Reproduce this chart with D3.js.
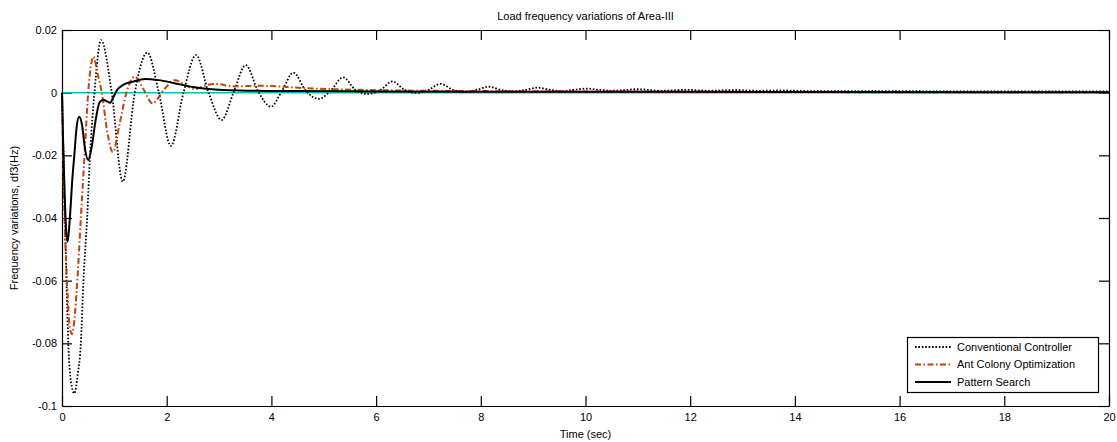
<!DOCTYPE html>
<html>
<head>
<meta charset="utf-8">
<script src="https://cdn.jsdelivr.net/npm/d3@7"></script>
<style>
  html, body { margin: 0; padding: 0; background: #fff; }
  svg { display: block; font-family: Arial, "Liberation Sans", sans-serif; }
  .axis text { font-size: 11px; fill: #000; }
  .axis path, .axis line { stroke: #000; stroke-width: 1.2; }
</style>
</head>
<body>
<div id="chart"></div>
<script>
// time axis and values of each response
const timeConv = [0, 0.03, 0.06, 0.09, 0.12, 0.17, 0.235, 0.3, 0.36, 0.41, 0.48, 0.535, 0.62, 0.745, 0.95, 1.16, 1.39, 1.63, 1.85, 2.08, 2.32, 2.56, 2.8, 3.05, 3.28, 3.51, 3.75, 3.99, 4.2, 4.42, 4.66, 4.91, 5.14, 5.37, 5.61, 5.85, 6.08, 6.31, 6.55, 6.78, 7.0, 7.23, 7.47, 7.7, 7.92, 8.15, 8.38, 8.62, 8.85, 9.09, 9.32, 9.55, 9.78, 10.02, 10.26, 10.5, 10.74, 10.98, 11.45, 11.92, 12.4, 12.85, 13.3, 13.8, 14.3, 20];
const conventional = [0, -0.02, -0.042, -0.063, -0.08, -0.092, -0.096, -0.09, -0.08, -0.06, -0.04, -0.02, 0, 0.0168, 0, -0.0284, 0, 0.0128, 0, -0.017, 0, 0.012, 0, -0.0087, 0.0002, 0.0088, 0.0003, -0.0045, 0.0005, 0.0064, 0.0005, -0.002, 0.0008, 0.0049, 0.0008, -0.0004, 0.0008, 0.0036, 0.0008, -0.0001, 0.0009, 0.0028, 0.0009, 0.0002, 0.0009, 0.0019, 0.0009, 0.0004, 0.0009, 0.0016, 0.0009, 0.0005, 0.0009, 0.0013, 0.0009, 0.0006, 0.0008, 0.0011, 0.0006, 0.0009, 0.0006, 0.0008, 0.0006, 0.0007, 0.0005, 0.0004];

const timeAco = [0, 0.02, 0.05, 0.1, 0.15, 0.19, 0.25, 0.3, 0.36, 0.43, 0.5, 0.6, 0.68, 0.76, 0.87, 0.97, 1.1, 1.23, 1.39, 1.56, 1.73, 1.95, 2.16, 2.35, 2.54, 2.72, 2.92, 3.3, 3.75, 4.7, 5.7, 7, 10, 14, 20];
const aco = [0, -0.02, -0.04, -0.062, -0.075, -0.077, -0.07, -0.058, -0.04, -0.02, 0, 0.0115, 0.006, 0, -0.013, -0.019, -0.01, 0, 0.0051, 0.001, -0.0034, 0.001, 0.004, 0.0025, 0.0011, 0.0022, 0.0028, 0.002, 0.0022, 0.0014, 0.0009, 0.0006, 0.0004, 0.0002, 0.0001];

const timePs = [0, 0.02, 0.05, 0.08, 0.108, 0.15, 0.2, 0.235, 0.28, 0.325, 0.38, 0.44, 0.5, 0.56, 0.65, 0.72, 0.79, 0.86, 0.92, 0.98, 1.05, 1.17, 1.35, 1.59, 1.85, 2.13, 2.5, 2.8, 3.4, 4.5, 6, 10, 14.3, 20];
const patternSearch = [0, -0.015, -0.032, -0.044, -0.0476, -0.04, -0.027, -0.02, -0.011, -0.0077, -0.01, -0.018, -0.0215, -0.018, -0.008, -0.003, -0.0023, -0.0028, -0.0032, -0.0015, 0.0008, 0.0025, 0.0035, 0.0044, 0.004, 0.0031, 0.0018, 0.0012, 0.0007, 0.0005, 0.0004, 0.0003, 0.0002, 0.0001];

const timeRef = [0, 20];
const reference = [0, 0];

const xTicks = [0, 2, 4, 6, 8, 10, 12, 14, 16, 18, 20];
const yTicks = [0.02, 0, -0.02, -0.04, -0.06, -0.08, -0.1];
const legendLabels = ['Conventional Controller', 'Ant Colony Optimization', 'Pattern Search'];

const W = 1117, H = 442;
// plot box in pixels
const box = {left: 62, right: 1109, top: 30, bottom: 406};

const svg = d3.select('#chart').append('svg')
    .attr('width', W)
    .attr('height', H);

const x = d3.scaleLinear().domain([0, 20]).range([box.left, box.right]);
const y = d3.scaleLinear().domain([-0.1, 0.02]).range([box.bottom, box.top]);

const fmt = d => d === 0 ? '0' : String(+d.toFixed(2));

// axes, ticks pointing inwards like matlab
svg.append('g').attr('class', 'axis')
    .attr('transform', `translate(0,${box.bottom})`)
    .call(d3.axisBottom(x).tickValues(xTicks).tickSizeInner(-10).tickSizeOuter(0).tickPadding(7).tickFormat(fmt));
svg.append('g').attr('class', 'axis')
    .attr('transform', `translate(0,${box.top})`)
    .call(d3.axisTop(x).tickValues(xTicks).tickSizeInner(-10).tickSizeOuter(0).tickFormat(''));
svg.append('g').attr('class', 'axis')
    .attr('transform', `translate(${box.left},0)`)
    .call(d3.axisLeft(y).tickValues(yTicks).tickSizeInner(-10).tickSizeOuter(0).tickPadding(5).tickFormat(fmt));
svg.append('g').attr('class', 'axis')
    .attr('transform', `translate(${box.right},0)`)
    .call(d3.axisRight(y).tickValues(yTicks).tickSizeInner(-10).tickSizeOuter(0).tickFormat(''));

const series = [
    {t: timeRef, v: reference, color: '#00bfbf', width: 1.5, dash: null},
    {t: timeConv, v: conventional, color: '#000', width: 1.8, dash: '1.6,1.8'},
    {t: timeAco, v: aco, color: '#c0440c', width: 2, dash: '6,2.5,1.5,2.5'},
    {t: timePs, v: patternSearch, color: '#000', width: 2, dash: null}
];

const line = d3.line()
    .x(d => x(d[0]))
    .y(d => y(d[1]))
    .curve(d3.curveMonotoneX);

svg.append('g')
    .selectAll('path')
    .data(series)
    .join('path')
    .attr('d', s => line(s.t.map((t, i) => [t, s.v[i]])))
    .attr('fill', 'none')
    .attr('stroke', s => s.color)
    .attr('stroke-width', s => s.width)
    .attr('stroke-dasharray', s => s.dash);

// title and axis labels
svg.append('text')
    .attr('x', (box.left + box.right) / 2).attr('y', 20)
    .attr('text-anchor', 'middle')
    .style('font-size', '11px')
    .text('Load frequency variations of Area-III');
svg.append('text')
    .attr('x', (box.left + box.right) / 2).attr('y', 438)
    .attr('text-anchor', 'middle')
    .style('font-size', '11px')
    .text('Time (sec)');
svg.append('text')
    .attr('transform', `translate(18,${(box.top + box.bottom) / 2}) rotate(-90)`)
    .attr('text-anchor', 'middle')
    .style('font-size', '11px')
    .text('Frequency variations, df3(Hz)');

// legend
const lg = svg.append('g');
lg.append('rect')
    .attr('x', 907.5).attr('y', 337.5)
    .attr('width', 191).attr('height', 55)
    .attr('fill', '#fff').attr('stroke', '#000').attr('stroke-width', 1.2);
const rows = lg.selectAll('g.row')
    .data(series.slice(1))
    .join('g')
    .attr('class', 'row')
    .attr('transform', (d, i) => `translate(0,${347 + i * 17.5})`);
rows.append('line')
    .attr('x1', 915).attr('x2', 951)
    .attr('stroke', d => d.color)
    .attr('stroke-width', d => d.width)
    .attr('stroke-dasharray', d => d.dash);
rows.append('text')
    .attr('x', 957).attr('dy', '0.35em')
    .style('font-size', '11px')
    .text((d, i) => legendLabels[i]);
</script>
</body>
</html>
